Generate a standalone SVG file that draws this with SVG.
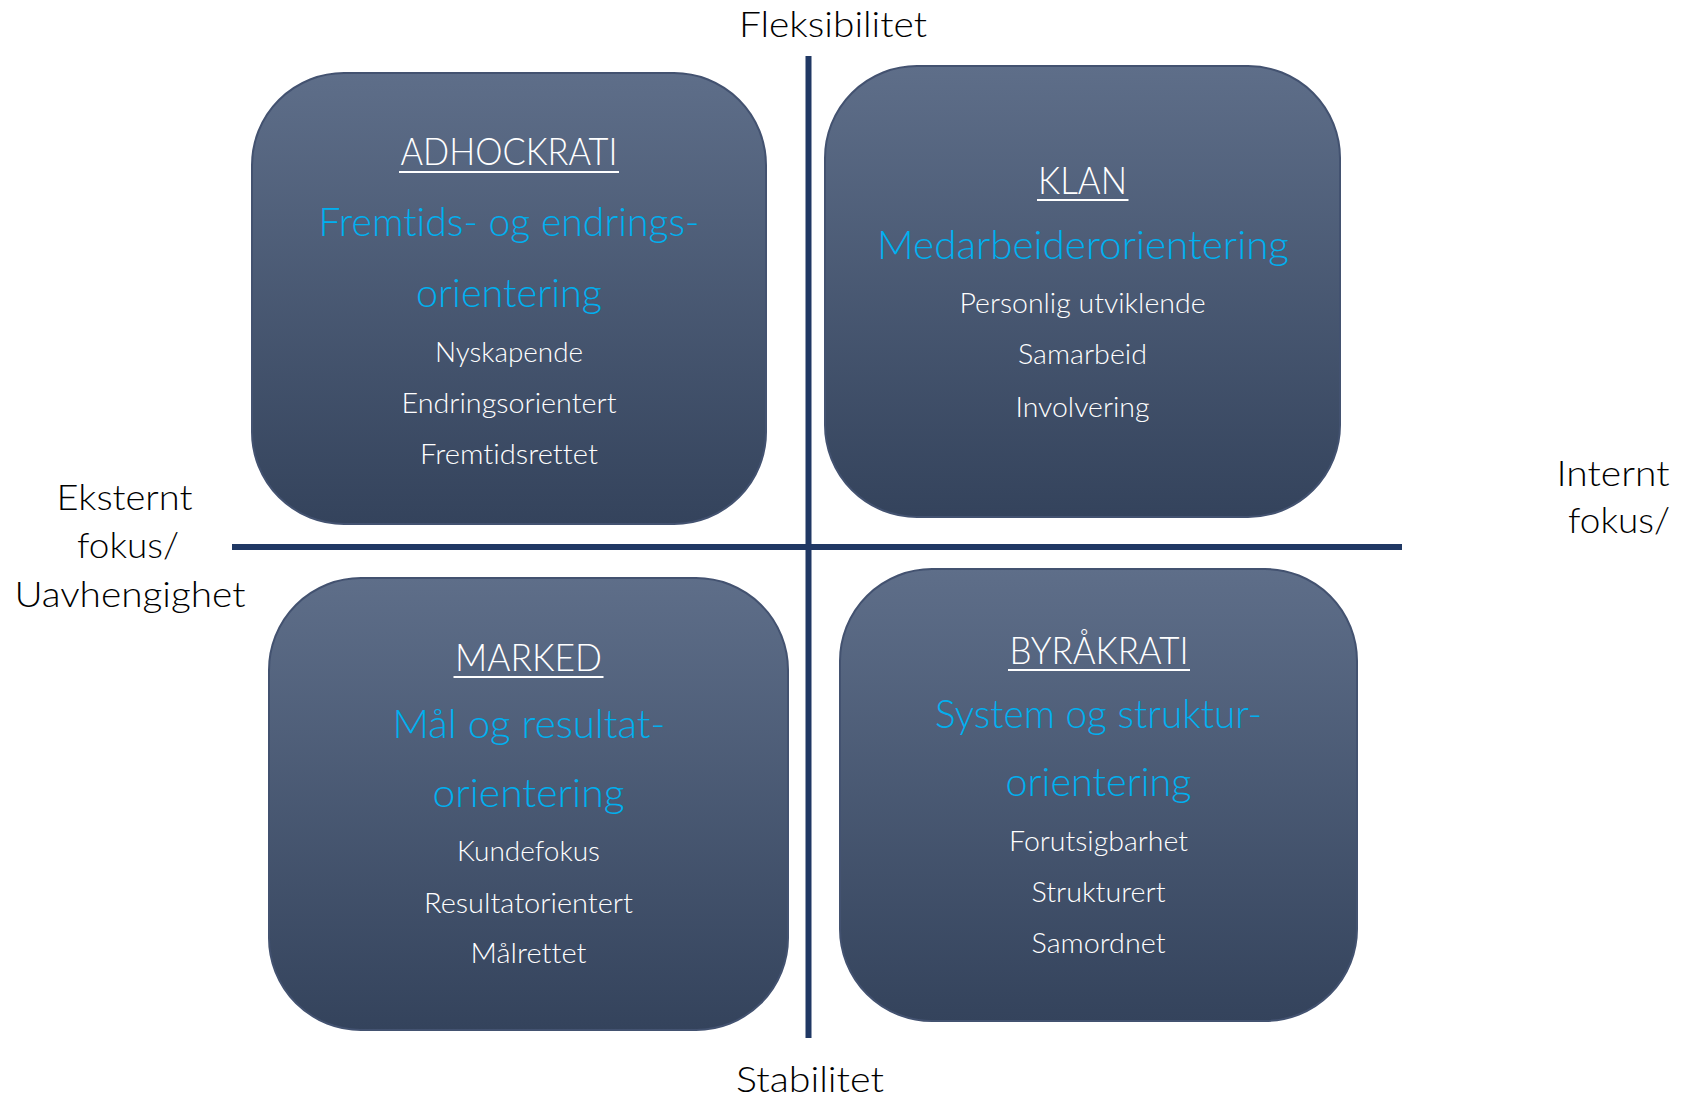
<svg xmlns="http://www.w3.org/2000/svg" width="1682" height="1097" viewBox="0 0 1682 1097">
  <defs>
    <linearGradient id="boxFill" x1="0" y1="0" x2="0" y2="1">
      <stop offset="0" stop-color="#5e6e89"/>
      <stop offset="1" stop-color="#34435c"/>
    </linearGradient>
    <style>
      text { font-family: Lato, "Open Sans", "Liberation Sans", sans-serif; font-weight: 300; text-anchor: middle; font-variant-ligatures: none; }
      .box { fill: url(#boxFill); stroke: #435270; stroke-width: 2; }
      .title { fill: #ffffff; font-size: 37px; }
      .ul { stroke: #ffffff; stroke-width: 2; }
      .lead { fill: #00b0f0; font-size: 39px; }
      .item { fill: #ffffff; font-size: 28px; }
      .axisLabel { fill: #000000; font-size: 36px; }
      .axis { stroke: #203864; stroke-width: 6; }
    </style>
  </defs>
  <rect width="1682" height="1097" fill="#ffffff"/>

  <!-- axes -->
  <g id="axes">
    <line class="axis" x1="808.5" y1="56" x2="808.5" y2="1038"/>
    <line class="axis" x1="232" y1="547" x2="1402" y2="547"/>
  </g>

  <!-- axis labels -->
  <g id="label-top"><text class="axisLabel" x="833" y="37" textLength="188" lengthAdjust="spacingAndGlyphs">Fleksibilitet</text></g>
  <g id="label-bottom"><text class="axisLabel" x="810" y="1092" textLength="148" lengthAdjust="spacingAndGlyphs">Stabilitet</text></g>
  <g id="label-left">
    <text class="axisLabel" x="124.5" y="510" textLength="136" lengthAdjust="spacingAndGlyphs">Eksternt</text>
    <text class="axisLabel" x="128" y="558" textLength="102" lengthAdjust="spacingAndGlyphs">fokus/</text>
    <text class="axisLabel" x="130" y="607" textLength="231" lengthAdjust="spacingAndGlyphs">Uavhengighet</text>
  </g>
  <g id="label-right">
    <text class="axisLabel" x="1613" y="486" textLength="113" lengthAdjust="spacingAndGlyphs">Internt</text>
    <text class="axisLabel" x="1619" y="533" textLength="102" lengthAdjust="spacingAndGlyphs">fokus/</text>
  </g>

  <!-- top-left quadrant -->
  <g id="adhockrati">
    <rect class="box" x="252" y="73" width="514" height="451" rx="92" ry="92"/>
    <text class="title" x="509" y="165" textLength="217" lengthAdjust="spacingAndGlyphs">ADHOCKRATI</text>
    <line class="ul" x1="399" y1="172" x2="619" y2="172"/>
    <text class="lead" x="509" y="236" textLength="381" lengthAdjust="spacingAndGlyphs">Fremtids- og endrings-</text>
    <text class="lead" x="509" y="307" textLength="186" lengthAdjust="spacingAndGlyphs">orientering</text>
    <text class="item" x="509" y="362" textLength="148" lengthAdjust="spacingAndGlyphs">Nyskapende</text>
    <text class="item" x="509" y="413" textLength="215" lengthAdjust="spacingAndGlyphs">Endringsorientert</text>
    <text class="item" x="509" y="464" textLength="178" lengthAdjust="spacingAndGlyphs">Fremtidsrettet</text>
  </g>

  <!-- top-right quadrant -->
  <g id="klan">
    <rect class="box" x="825" y="66" width="515" height="451" rx="92" ry="92"/>
    <text class="title" x="1082.5" y="194" textLength="89" lengthAdjust="spacingAndGlyphs">KLAN</text>
    <line class="ul" x1="1037" y1="200" x2="1128.5" y2="200"/>
    <text class="lead" x="1083" y="259" textLength="412" lengthAdjust="spacingAndGlyphs">Medarbeiderorientering</text>
    <text class="item" x="1082.5" y="313" textLength="246" lengthAdjust="spacingAndGlyphs">Personlig utviklende</text>
    <text class="item" x="1082.5" y="364" textLength="129" lengthAdjust="spacingAndGlyphs">Samarbeid</text>
    <text class="item" x="1082.5" y="417" textLength="134" lengthAdjust="spacingAndGlyphs">Involvering</text>
  </g>

  <!-- bottom-left quadrant -->
  <g id="marked">
    <rect class="box" x="269" y="578" width="519" height="452" rx="92" ry="92"/>
    <text class="title" x="528.5" y="671" textLength="147" lengthAdjust="spacingAndGlyphs">MARKED</text>
    <line class="ul" x1="453.5" y1="677" x2="603.5" y2="677"/>
    <text class="lead" x="529" y="738" textLength="273" lengthAdjust="spacingAndGlyphs">Mål og resultat-</text>
    <text class="lead" x="528.5" y="807" textLength="192" lengthAdjust="spacingAndGlyphs">orientering</text>
    <text class="item" x="528.5" y="861" textLength="143" lengthAdjust="spacingAndGlyphs">Kundefokus</text>
    <text class="item" x="528.5" y="913" textLength="209" lengthAdjust="spacingAndGlyphs">Resultatorientert</text>
    <text class="item" x="528.5" y="963" textLength="116" lengthAdjust="spacingAndGlyphs">Målrettet</text>
  </g>

  <!-- bottom-right quadrant -->
  <g id="byraakrati">
    <rect class="box" x="840" y="569" width="517" height="452" rx="92" ry="92"/>
    <text class="title" x="1099" y="664" textLength="179" lengthAdjust="spacingAndGlyphs">BYRÅKRATI</text>
    <line class="ul" x1="1008" y1="670" x2="1190" y2="670"/>
    <text class="lead" x="1098.5" y="728" textLength="327" lengthAdjust="spacingAndGlyphs">System og struktur-</text>
    <text class="lead" x="1098.5" y="796" textLength="186" lengthAdjust="spacingAndGlyphs">orientering</text>
    <text class="item" x="1098.5" y="851" textLength="179" lengthAdjust="spacingAndGlyphs">Forutsigbarhet</text>
    <text class="item" x="1098.5" y="902" textLength="134" lengthAdjust="spacingAndGlyphs">Strukturert</text>
    <text class="item" x="1098.5" y="953" textLength="134" lengthAdjust="spacingAndGlyphs">Samordnet</text>
  </g>
</svg>
